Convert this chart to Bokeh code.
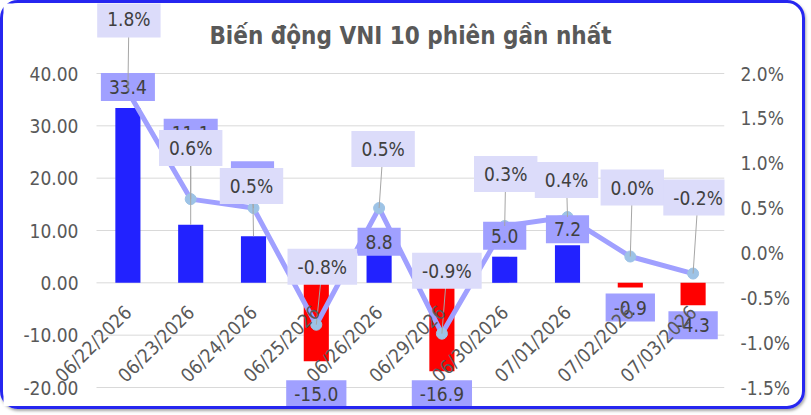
import math
from bokeh.plotting import figure
from bokeh.models import (Range1d, LinearAxis, FixedTicker, ColumnDataSource,
                          Label, PrintfTickFormatter)
from bokeh.core.properties import value
from bokeh.embed import file_html
from bokeh.resources import INLINE

# ---------------- data ----------------
dates = ["06/22/2026", "06/23/2026", "06/24/2026", "06/25/2026", "06/26/2026",
         "06/29/2026", "06/30/2026", "07/01/2026", "07/02/2026", "07/03/2026"]
change_pts = [33.4, 11.1, 8.9, -15.0, 8.8, -16.9, 5.0, 7.2, -0.9, -4.3]
change_pct = [1.8, 0.6, 0.5, -0.8, 0.5, -0.9, 0.3, 0.4, -0.04, -0.23]
left_ticks = [-20, -10, 0, 10, 20, 30, 40]
right_ticks = [-1.5, -1.0, -0.5, 0.0, 0.5, 1.0, 1.5, 2.0]
title_text = "Biến động VNI 10 phiên gần nhất"

# manual data-label placement (pixel offsets from the data point)
bar_lbl_dx = [0, 0, -1, 0, 0, 0, 0, 0, 0, 0]
bar_lbl_dy = [-21, -92, -61, 33, 5, 23, -21, -16, 20, 20]
bar_leader = [False, True, True, False, False, False, False, False, False, False]
pct_lbl_dx = [1, 0, -2, 6, 4, 5, 1, -1, 2, 5]
pct_lbl_dy = [-72, -51, -22, -58, -59, -63, -52, -37, -69, -76]

# ---------------- layout ----------------
FONT = "DejaVu Sans Condensed"
W, H = 805, 409
PLOT_LEFT, MR = 93, 84          # pixel start of the category area / right panel
L_MIN, L_MAX = -20, 40
R_MIN, R_MAX = -1.5, 2.0
PLOT_PX = 314.0                 # pixels between L_MIN and L_MAX
TOP_EXTRA, BOT_EXTRA = 70, 25   # frame pixels above L_MAX / below L_MIN
ppu = PLOT_PX / (L_MAX - L_MIN)
y_top = L_MAX + TOP_EXTRA / ppu
y_bot = L_MIN - BOT_EXTRA / ppu
BAR_PAD = dict(left=8, right=8, top=7, bottom=7)
PCT_PAD = dict(left=10, right=10, top=7, bottom=7)


def to_pct(v):
    return R_MIN + (v - L_MIN) * (R_MAX - R_MIN) / (L_MAX - L_MIN)


def from_pct(p):
    return L_MIN + (p - R_MIN) * (L_MAX - L_MIN) / (R_MAX - R_MIN)


n = len(dates)
xs = list(range(n))
cat_px = (W - PLOT_LEFT - MR) / n
x_start = -0.5 - PLOT_LEFT / cat_px

p = figure(width=W, height=H, x_range=Range1d(x_start, n - 0.5),
           y_range=Range1d(y_bot, y_top), x_axis_type=None, y_axis_type=None,
           toolbar_location=None, output_backend="svg",
           min_border_left=0, min_border_right=MR, min_border_top=0, min_border_bottom=0)
p.extra_y_ranges = {"pct": Range1d(to_pct(y_bot), to_pct(y_top))}
p.outline_line_color = None
p.background_fill_color = "white"
p.border_fill_alpha = 0
p.styles = {"border": "3px solid #2626f0", "border-radius": "18px",
            "box-shadow": "1px 2px 3px rgba(0,0,0,0.35)"}

left_axis = LinearAxis(ticker=FixedTicker(ticks=left_ticks),
                       formatter=PrintfTickFormatter(format="%.2f"),
                       fixed_location=-0.5)
right_axis = LinearAxis(y_range_name="pct", ticker=FixedTicker(ticks=right_ticks),
                        formatter=PrintfTickFormatter(format="%.1f%%"))
# category axis drawn at value 0 (fixed location, takes no panel space)
cat_axis = LinearAxis(ticker=FixedTicker(ticks=xs),
                      major_label_overrides={i: d for i, d in zip(xs, dates)},
                      fixed_location=0, major_label_orientation=math.pi / 4)
for ax, st in ((left_axis, 18), (right_axis, 16), (cat_axis, 26)):
    ax.axis_line_color = None
    ax.major_tick_line_color = None
    ax.minor_tick_line_color = None
    ax.major_tick_out = 0
    ax.major_tick_in = 0
    ax.major_label_standoff = st
    ax.major_label_text_font = FONT
    ax.major_label_text_font_size = "19px"
    ax.major_label_text_color = "#595959"
p.add_layout(left_axis, "left")
p.add_layout(right_axis, "right")
p.add_layout(cat_axis, "below")

# horizontal gridlines at the left-axis ticks, spanning the category area
p.segment(x0=-0.5, x1=n - 0.5, y0=left_ticks, y1=left_ticks, line_color="#d9d9d9",
          line_width=1)

# bars
bar_src = ColumnDataSource(dict(x=xs, top=change_pts,
                                color=["#2222ff" if v >= 0 else "#ff0000" for v in change_pts]))
p.vbar(x="x", top="top", bottom=0, width=0.4, fill_color="color", line_color=None,
       source=bar_src)

# line
p.line(xs, change_pct, y_range_name="pct", line_color="#a0a0ff", line_width=5,
       line_join="round")
p.scatter(xs, change_pct, y_range_name="pct", size=11, fill_color="#9dc3e6",
          line_color="#9dc3e6")

# bar labels
bar_lbl_src = ColumnDataSource(dict(
    x=xs, y=change_pts, text=[f"{v:.1f}" for v in change_pts],
    dx=bar_lbl_dx, dy=bar_lbl_dy))
p.text(x="x", y="y", text="text", x_offset="dx", y_offset="dy", source=bar_lbl_src,
       text_align="center", text_baseline="middle", text_font=value(FONT),
       text_font_size="19px", text_color="#404040", background_fill_color="#a0a0ff",
       padding=BAR_PAD)

# leader lines
x0, y0, x1, y1 = [], [], [], []
for i in range(n):
    if bar_leader[i]:
        x0.append(i + bar_lbl_dx[i] / cat_px)
        y0.append(change_pts[i] - bar_lbl_dy[i] / ppu)
        x1.append(i)
        y1.append(change_pts[i])
    vp = from_pct(change_pct[i])
    x0.append(i + pct_lbl_dx[i] / cat_px)
    y0.append(vp - pct_lbl_dy[i] / ppu)
    x1.append(i)
    y1.append(vp)
p.segment(x0=x0, y0=y0, x1=x1, y1=y1, line_color="#a6a6a6", line_width=1)

# percent labels
pct_lbl_src = ColumnDataSource(dict(
    x=xs, y=change_pct, text=[f"{round(v, 1) + 0.0:.1f}%" for v in change_pct],
    dx=pct_lbl_dx, dy=pct_lbl_dy))
p.text(x="x", y="y", text="text", x_offset="dx", y_offset="dy", source=pct_lbl_src,
       y_range_name="pct", text_align="center", text_baseline="middle",
       text_font=value(FONT), text_font_size="19px", text_color="#404040",
       background_fill_color="#dcdcfa", padding=PCT_PAD)

# title
p.add_layout(Label(x=(n - 1) / 2, y=L_MAX + (73 - 35) / ppu, text=title_text,
                   text_align="center", text_baseline="middle", text_font=FONT,
                   text_font_style="bold", text_font_size="24px", text_color="#595959"))

open("out.html", "w").write(file_html(p, INLINE))
